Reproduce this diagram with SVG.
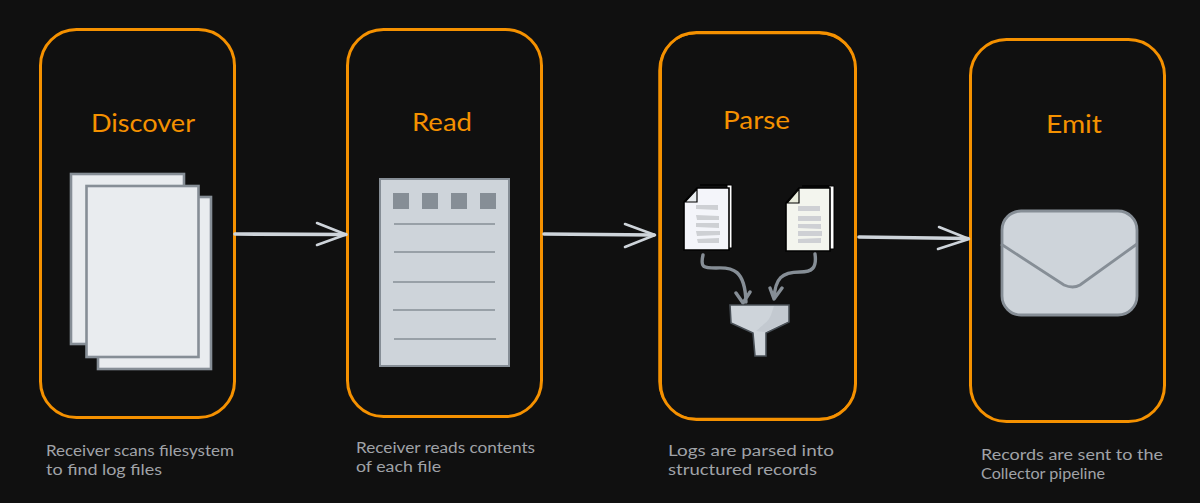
<svg xmlns="http://www.w3.org/2000/svg" width="1200" height="503" viewBox="0 0 1200 503">
<style>
.box{fill:#101010;stroke:#f59100;stroke-width:3}
.box2{fill:none;stroke:#f59100;stroke-width:1.500}
.title{font-family:"Lato","Open Sans",sans-serif;font-size:25px;fill:#f59100}
.cap{font-family:"Lato","Open Sans",sans-serif;font-size:15.5px;fill:#a0a3a8}
.stem{fill:none;stroke:#ced4da;stroke-width:3.600;stroke-linecap:round}
.head{fill:none;stroke:#ced4da;stroke-width:2.600;stroke-linecap:round;stroke-linejoin:round}
.sheet{fill:#e9ecef;stroke:#868e96;stroke-width:2.600}
.gs{fill:none;stroke:#868e96;stroke-width:1.300}
.sq{fill:#868e96}
.flow{fill:none;stroke:#868e96;stroke-width:3.400;stroke-linecap:round;stroke-linejoin:round}
.doc{stroke:#000;stroke-width:1.600}
.fold{stroke:#000;stroke-width:1.200}
.bar{fill:#ced0d4}
</style>
<rect width="1200" height="503" fill="#101010"/>
<g id="discover">
<rect class="box" x="40.500" y="29.500" width="194" height="388" rx="36"/>
<text class="title" x="91" y="132" textLength="104" lengthAdjust="spacingAndGlyphs">Discover</text>
<rect class="sheet" x="71" y="174" width="113" height="170"/>
<rect class="sheet" x="98" y="197" width="113" height="172"/>
<rect class="sheet" x="86.500" y="186" width="112" height="171"/>
<text class="cap"><tspan x="46" y="456" textLength="188" lengthAdjust="spacingAndGlyphs">Receiver scans filesystem</tspan><tspan x="46" y="475" textLength="116" lengthAdjust="spacingAndGlyphs">to find log files</tspan></text>
</g>
<g id="read">
<rect class="box" x="347.500" y="29.500" width="194" height="387" rx="36"/>
<text class="title" x="412" y="131" textLength="60" lengthAdjust="spacingAndGlyphs">Read</text>
<rect x="380" y="179" width="129" height="187" fill="#ced4da" stroke="#868e96" stroke-width="2"/>
<rect class="sq" x="393" y="193" width="16" height="16"/>
<rect class="sq" x="422" y="193" width="16" height="16"/>
<rect class="sq" x="451" y="193" width="16" height="16"/>
<rect class="sq" x="480" y="193" width="16" height="16"/>
<path class="gs" d="M394 224H495M394 252H495M393 282H495M393 310H495M394 339H496"/>
<text class="cap"><tspan x="356" y="453" textLength="179" lengthAdjust="spacingAndGlyphs">Receiver reads contents</tspan><tspan x="356" y="472" textLength="85" lengthAdjust="spacingAndGlyphs">of each file</tspan></text>
</g>
<g id="parse">
<rect class="box" x="660.500" y="32.500" width="195" height="387" rx="36"/>
<rect class="box2" x="659" y="33.500" width="197" height="385" rx="37"/>
<text class="title" x="723" y="129" textLength="67" lengthAdjust="spacingAndGlyphs">Parse</text>
<path d="M700 185H732V248H727V185Z" fill="#fff" stroke="#000" stroke-width="1"/>
<path class="doc" d="M697 188H729V250H684V202Z" fill="#f4f5fa"/>
<path class="fold" d="M697 189V202H685Z" fill="#e9ecef"/>
<g class="bar"><path d="M696 205L718 205V210L696 209Z"/><path d="M696 215L719 216V220L697 220Z"/><path d="M696 223L719 223V228L696 227Z"/><path d="M696 231L720 231V235L697 236Z"/><path d="M697 239L719 238V243L698 243Z"/></g>
<path d="M802 186H834V249H829V186Z" fill="#fff" stroke="#000" stroke-width="1"/>
<path class="doc" d="M799 188H830V251H786V203Z" fill="#f3f5ee"/>
<path class="fold" d="M799 189V203H787Z" fill="#e9ecdc"/>
<g class="bar"><path d="M798 206L820 206V211L798 211Z"/><path d="M798 216L821 216V221L798 221Z"/><path d="M798 224L821 224V229L798 228Z"/><path d="M798 231L822 231V236L798 236Z"/><path d="M798 239L821 238V243L798 243Z"/></g>
<path class="flow" d="M703 255C700 268 704 268 716 268C733 267 745 270 746 302M736 293L743 303L750 292"/>
<path class="flow" d="M815 254C817 268 812 272 800 272C782 272 775 278 774 299M770 288L774 299L782 288"/>
<path d="M730 305H789V322L766 333V356H755L753 333L731 323Z" fill="#ced4da" stroke="#495057" stroke-width="1.600"/>
<path d="M788 306V321L765 332L756 331C766 322 768 322 771 315L774 306Z" fill="#c3c9d0"/>
<text class="cap"><tspan x="668" y="456" textLength="166" lengthAdjust="spacingAndGlyphs">Logs are parsed into</tspan><tspan x="668" y="475" textLength="149" lengthAdjust="spacingAndGlyphs">structured records</tspan></text>
</g>
<g id="emit">
<rect class="box" x="970.500" y="39.500" width="194" height="382" rx="36"/>
<text class="title" x="1046" y="133" textLength="56" lengthAdjust="spacingAndGlyphs">Emit</text>
<rect x="1002" y="211" width="135" height="104" rx="19" fill="#ced4da" stroke="#868e96" stroke-width="2.800"/>
<path d="M1001 244L1064 285Q1073 289 1080 285L1137 244" fill="none" stroke="#868e96" stroke-width="2.800"/>
<text class="cap"><tspan x="981" y="460" textLength="182" lengthAdjust="spacingAndGlyphs">Records are sent to the</tspan><tspan x="981" y="479" textLength="124" lengthAdjust="spacingAndGlyphs">Collector pipeline</tspan></text>
</g>
<g id="connectors">
<path class="stem" d="M235 234L346 234.500"/><path class="head" d="M317 223L346 234.500L317 245"/>
<path class="stem" d="M544 234L654 235"/><path class="head" d="M625 224L655 235L625 247"/>
<path class="stem" d="M859 237L968 238.500"/><path class="head" d="M939 227L969 239L938 249"/>
</g>
</svg>
